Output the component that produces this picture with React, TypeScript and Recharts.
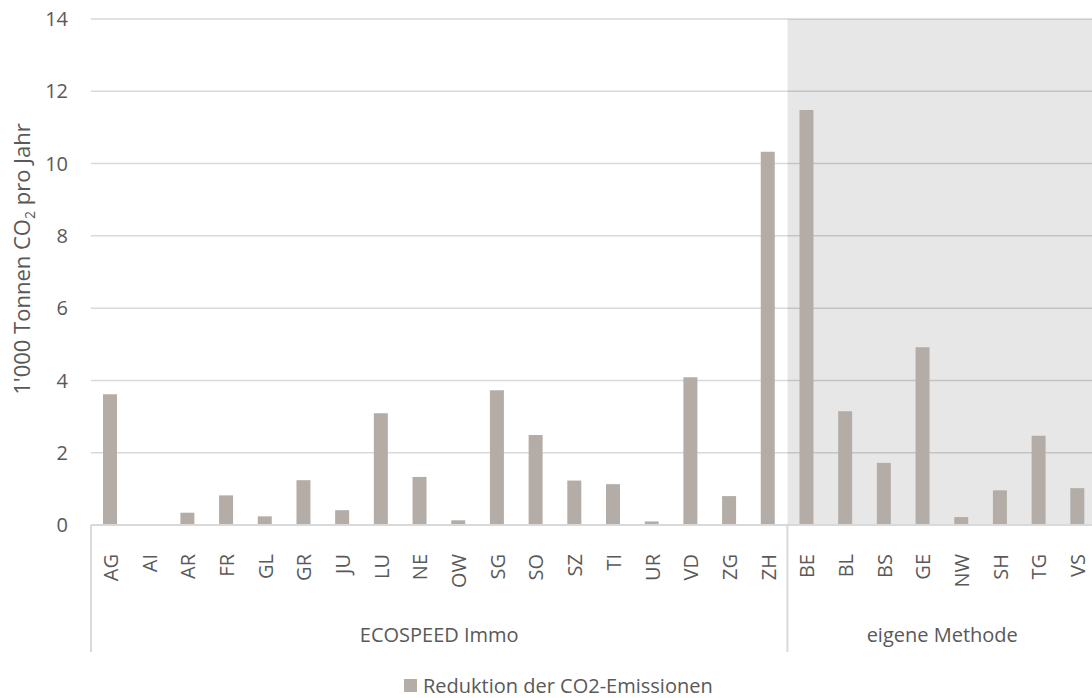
import { BarChart, Bar, XAxis, YAxis, CartesianGrid, ReferenceArea, Legend } from 'recharts';

const ecospeedCodes = ['AG', 'AI', 'AR', 'FR', 'GL', 'GR', 'JU', 'LU', 'NE', 'OW', 'SG', 'SO', 'SZ', 'TI', 'UR', 'VD', 'ZG', 'ZH'];
const ecospeedValues = [3.62, 0, 0.34, 0.82, 0.24, 1.24, 0.41, 3.09, 1.33, 0.13, 3.73, 2.49, 1.23, 1.13, 0.1, 4.09, 0.8, 10.33];
const eigeneCodes = ['BE', 'BL', 'BS', 'GE', 'NW', 'SH', 'TG', 'VS'];
const eigeneValues = [11.48, 3.15, 1.72, 4.92, 0.22, 0.96, 2.47, 1.02];
const groupNames = ['ECOSPEED Immo', 'eigene Methode'];
const yTicks = [0, 2, 4, 6, 8, 10, 12, 14];

const data = [
  ...ecospeedCodes.map((code, i) => ({ code, group: groupNames[0], value: ecospeedValues[i] })),
  ...eigeneCodes.map((code, i) => ({ code, group: groupNames[1], value: eigeneValues[i] })),
];
const groupSizes = [ecospeedCodes.length, eigeneCodes.length];
const groupStarts = [0, ecospeedCodes.length];

const FONT = '"Open Sans", sans-serif';
const TEXT = '#595959';
const BAR = '#b4ada7';
const GRID = '#d9d9d9';

const CHART_W = 1097;
const Y_W = 91;
const STEP = (CHART_W - Y_W) / data.length;

function CategoryTick(props: any) {
  const { x, y, payload, index } = props;
  const half = payload && payload.offset ? payload.offset : STEP / 2;
  const g = groupStarts.indexOf(index);
  const ly = y + 29;
  return (
    <g>
      <text
        x={x}
        y={ly}
        transform={`rotate(-90 ${x} ${ly})`}
        textAnchor="end"
        dominantBaseline="central"
        fontFamily={FONT}
        fontSize={20}
        fill={TEXT}
      >
        {payload.value}
      </text>
      {g >= 0 && (
        <g>
          <line x1={x - half} x2={x - half} y1={y} y2={y + 127} stroke={GRID} strokeWidth={2} />
          <text
            x={x - half + groupSizes[g] * half}
            y={y + 117}
            textAnchor="middle"
            fontFamily={FONT}
            fontSize={20}
            fill={TEXT}
          >
            {groupNames[g]}
          </text>
        </g>
      )}
      {index === data.length - 1 && (
        <line x1={x + half} x2={x + half} y1={y} y2={y + 127} stroke={GRID} strokeWidth={2} />
      )}
    </g>
  );
}

function YTitle() {
  return (
    <text x={30} y={259} transform="rotate(-90 30 259)" textAnchor="middle" fontFamily={FONT} fontSize={22} fill={TEXT}>
      1'000 Tonnen CO
      <tspan fontSize={14} dy={5}>2</tspan>
      <tspan dy={-5}> pro Jahr</tspan>
    </text>
  );
}

function LegendContent() {
  return (
    <div style={{ display: 'flex', alignItems: 'center', fontFamily: FONT, fontSize: 20, color: TEXT, whiteSpace: 'nowrap' }}>
      <span style={{ display: 'inline-block', width: 13, height: 13, background: BAR }} />
      <span style={{ marginLeft: 6 }}>Reduktion der CO2-Emissionen</span>
    </div>
  );
}

export default function App() {
  return (
    <div style={{ position: 'absolute', left: 0, top: 0, width: 1092, height: 698, overflow: 'hidden', background: '#fff' }}>
      <BarChart width={CHART_W} height={698} data={data} margin={{ top: 19, right: 0, left: 0, bottom: 0 }} barSize={14}>
        <ReferenceArea x1="BE" x2="VS" y1={0} y2={14} fill="#000" fillOpacity={0.094} stroke="none" ifOverflow="visible" />
        <CartesianGrid vertical={false} stroke={GRID} strokeWidth={1.5} />
        <XAxis
          dataKey="code"
          interval={0}
          height={173}
          tickLine={false}
          tickSize={0}
          tickMargin={0}
          axisLine={{ stroke: GRID, strokeWidth: 2 }}
          tick={<CategoryTick />}
        />
        <YAxis
          width={Y_W}
          domain={[0, 14]}
          ticks={yTicks}
          axisLine={false}
          tickLine={false}
          tickSize={0}
          tickMargin={23}
          tick={{ fontFamily: FONT, fontSize: 20, fill: TEXT }}
          label={<YTitle />}
        />
        <Legend
          verticalAlign="middle"
          align="center"
          wrapperStyle={{ top: 672, left: 404, width: 'auto' }}
          content={<LegendContent />}
        />
        <Bar dataKey="value" fill={BAR} isAnimationActive={false} />
      </BarChart>
    </div>
  );
}
